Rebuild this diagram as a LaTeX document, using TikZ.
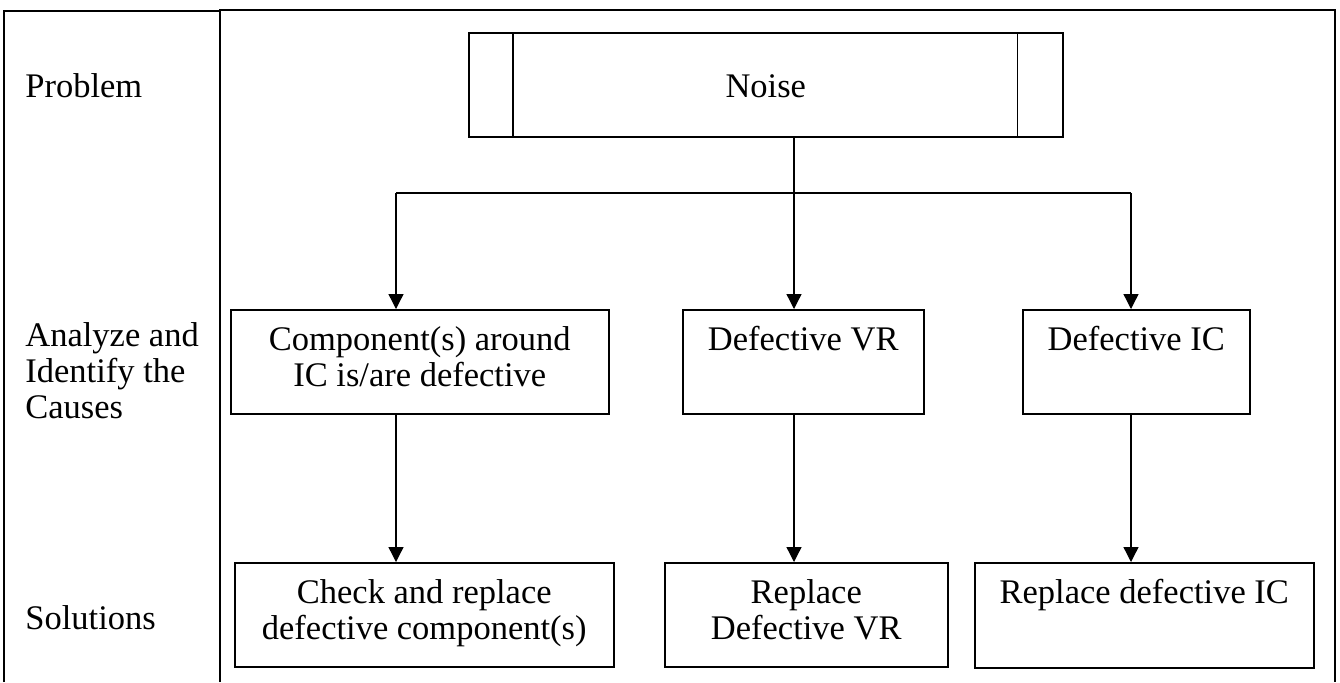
\documentclass[tikz,border=0pt]{standalone}
\usepackage{fontspec}
\setmainfont{Liberation Serif}
\usetikzlibrary{arrows.meta,calc}
\newcommand{\bxtext}[3]{\parbox[c][#2][t]{#1}{\centering\rule{0pt}{20.5pt}#3}}
\tikzset{
  frameline/.style={line width=1pt},
  flowbox/.style={draw, line width=0.75pt, inner sep=0pt, anchor=north west},
  connector/.style={line width=0.65pt},
  arr/.style={connector, -{Triangle[length=7.5pt,width=7.5pt]}},
  rowlabel/.style={anchor=base west, inner sep=0pt, align=left},
}
\begin{document}
\begin{tikzpicture}[x=0.5pt,y=-0.5pt, every node/.style={font=\fontsize{17.25pt}{18pt}\selectfont}]
\useasboundingbox (0,0) rectangle (1340,682);
% frame
\draw[frameline] (4,682) -- (4,11) -- (220,11);
\draw[frameline] (220,682) -- (220,10) -- (1335,10) -- (1335,682);
% row labels
\node[rowlabel] (lprob) at (25,97) {Problem};
\node[rowlabel, anchor=north west] (lcause) at (25,322) {\parbox[t]{100pt}{\raggedright\rule{0pt}{12pt}Analyze and\\Identify the\\Causes}};
\node[rowlabel] (lsol) at (25,629) {Solutions};
% problem box
\node[flowbox] (noise) at (468,32) {\parbox[c][52pt][t]{297pt}{\centering\rule{0pt}{32.5pt}Noise}};
\draw[line width=0.75pt] ($(noise.north west)+(45,0)$) -- ($(noise.south west)+(45,0)$);
\draw[line width=0.75pt] ($(noise.north east)+(-46,0)$) -- ($(noise.south east)+(-46,0)$);
% causes
\node[flowbox] (comp) at (230,309) {\bxtext{189pt}{52pt}{Component(s) around\\IC is/are defective}};
\node[flowbox] (vr) at (682,309) {\bxtext{120.5pt}{52pt}{Defective VR}};
\node[flowbox] (ic) at (1022,309) {\bxtext{113.5pt}{52pt}{Defective IC}};
% solutions
\node[flowbox] (check) at (234,562) {\bxtext{189.5pt}{52pt}{Check and replace\\defective component(s)}};
\node[flowbox] (rvr) at (664,562) {\bxtext{141.5pt}{52pt}{Replace\\Defective VR}};
\node[flowbox] (ric) at (974,562) {\bxtext{169.5pt}{52.5pt}{Replace defective IC}};
% connectors
\coordinate (jl) at (396,193);
\coordinate (jm) at (794,193);
\coordinate (jr) at (1131,193);
\draw[connector] (jl) -- (jr);
\draw[arr] (noise.south -| jm) -- (vr.north -| jm);
\draw[arr] (jl) -- (comp.north -| jl);
\draw[arr] (jr) -- (ic.north -| jr);
\draw[arr] (comp.south -| jl) -- (check.north -| jl);
\draw[arr] (vr.south -| jm) -- (rvr.north -| jm);
\draw[arr] (ic.south -| jr) -- (ric.north -| jr);
\end{tikzpicture}
\end{document}
